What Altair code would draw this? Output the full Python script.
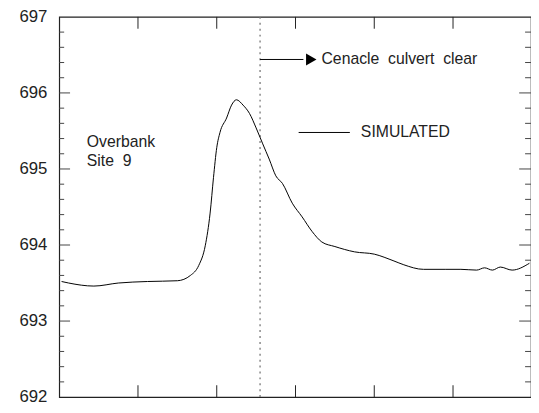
import altair as alt
import pandas as pd

# ── Data ──────────────────────────────────────────────────────────────────────
t = [0.03, 0.12, 0.44, 0.75, 1.12, 1.5, 1.666, 1.771, 1.854, 1.916, 1.959, 2.0,
     2.041, 2.125, 2.188, 2.25, 2.334, 2.416, 2.5, 2.584, 2.666, 2.75, 2.834,
     2.959, 3.084, 3.209, 3.334, 3.5, 3.75, 4.0, 4.25, 4.375, 4.625, 4.9, 5.1,
     5.3, 5.4, 5.5, 5.6, 5.75, 5.97]
stage = [693.52, 693.5, 693.46, 693.5, 693.52, 693.53, 693.6, 693.73, 693.99,
         694.42, 694.89, 695.28, 695.48, 695.67, 695.84, 695.91, 695.84, 695.73,
         695.54, 695.33, 695.13, 694.91, 694.81, 694.55, 694.37, 694.18, 694.04,
         693.98, 693.91, 693.88, 693.79, 693.74, 693.68, 693.68, 693.68, 693.67,
         693.7, 693.67, 693.71, 693.67, 693.76]
x_ticks = [1, 2, 3, 4, 5]
y_major = [693, 694, 695, 696, 697]
y_minor = [692 + i * 0.2 for i in range(26) if i % 5 != 0]
event_t = 2.55

font = "Liberation Sans"
XS = alt.Scale(domain=[0, 5.99], nice=False, zero=False)
YS = alt.Scale(domain=[692, 697], nice=False, zero=False)
W, H = 479, 386


def xq(f):
    return alt.X(f"{f}:Q", scale=XS, axis=None)


def yq(f):
    return alt.Y(f"{f}:Q", scale=YS, axis=None)


curve = alt.Chart(pd.DataFrame({"t": t, "stage": stage})).mark_line(
    color="black", strokeWidth=1, interpolate="monotone"
).encode(x=xq("t"), y=yq("stage"))

# y tick labels
ylab = alt.Chart(pd.DataFrame({"y": [692] + y_major})).mark_text(
    align="right", baseline="middle", font=font, fontSize=17, color="#222", dx=-12
).encode(x=alt.value(0), y=yq("y"), text=alt.Text("y:Q", format="d"))

# inward ticks, drawn as short rules
xt = pd.DataFrame({"x": x_ticks})
xtick_b = alt.Chart(xt).mark_rule(color="#222").encode(
    x=xq("x"), y=alt.value(H), y2=alt.value(H - 12))
xtick_t = alt.Chart(xt).mark_rule(color="#222").encode(
    x=xq("x"), y=alt.value(0), y2=alt.value(12))
ymaj = pd.DataFrame({"y": y_major[:-1]})
ymin = pd.DataFrame({"y": y_minor})
ytick_l = alt.Chart(ymaj).mark_rule(color="#444").encode(
    y=yq("y"), x=alt.value(0), x2=alt.value(11))
ytick_r = alt.Chart(ymaj).mark_rule(color="#444").encode(
    y=yq("y"), x=alt.value(W - 12), x2=alt.value(W))
ymin_l = alt.Chart(ymin).mark_rule(color="#444").encode(
    y=yq("y"), x=alt.value(0), x2=alt.value(5))
ymin_r = alt.Chart(ymin).mark_rule(color="#444").encode(
    y=yq("y"), x=alt.value(W - 6), x2=alt.value(W))

vline = alt.Chart(pd.DataFrame({"x": [event_t]})).mark_rule(
    color="#777", strokeDash=[2, 4], strokeWidth=1.3).encode(
    x=xq("x"), y=alt.value(0), y2=alt.value(H))

# annotations
arrow = alt.Chart(pd.DataFrame({"x": [event_t], "x2": [3.1], "y": [696.44]})).mark_rule(
    color="black").encode(x=xq("x"), x2="x2:Q", y=yq("y"))
head = alt.Chart(pd.DataFrame({"x": [3.2], "y": [696.44]})).mark_point(
    shape="triangle-right", filled=True, color="black", size=150, opacity=1).encode(
    x=xq("x"), y=yq("y"))
sim_line = alt.Chart(pd.DataFrame({"x": [3.04], "x2": [3.69], "y": [695.48]})).mark_rule(
    color="black").encode(x=xq("x"), x2="x2:Q", y=yq("y"))

sp = "\u00a0\u00a0"
texts = pd.DataFrame({
    "x": [3.33, 3.83, 0.35, 0.35],
    "y": [696.44, 695.48, 695.35, 695.11],
    "label": [f"Cenacle{sp}culvert{sp}clear", "SIMULATED", "Overbank", f"Site{sp}9"],
})
labels = alt.Chart(texts).mark_text(
    align="left", baseline="middle", font=font, fontSize=16, color="#222").encode(
    x=xq("x"), y=yq("y"), text="label:N")

chart = alt.layer(
    vline, curve, xtick_b, xtick_t, ytick_l, ytick_r, ymin_l, ymin_r,
    arrow, head, sim_line, labels, ylab
).properties(
    width=W, height=H,
    autosize=alt.AutoSizeParams(type="none"),
    padding={"left": 52, "top": 6, "right": 0, "bottom": 5},
).configure_view(stroke="#222", strokeWidth=1.2)

chart.save("out.html", embed_options={"renderer": "svg", "actions": False})
